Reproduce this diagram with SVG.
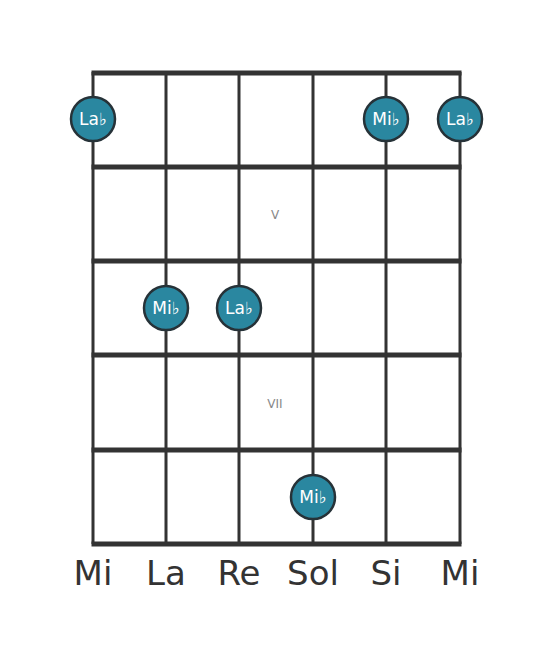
<svg xmlns="http://www.w3.org/2000/svg" width="553" height="656" viewBox="0 0 553 656">
<style>
.fret{stroke:#333;stroke-width:5}
.str{stroke:#333;stroke-width:3}
.dot circle{fill:#2a87a0;stroke:#263238;stroke-width:2.5}
.dot text{fill:#fff;font-family:"DejaVu Sans",sans-serif;font-size:17px;text-anchor:middle}
.lbl{fill:#333;font-family:"DejaVu Sans",sans-serif;font-size:34px;text-anchor:middle}
.pos{fill:#888;font-family:"DejaVu Sans",sans-serif;font-size:12px;text-anchor:middle}
</style>
<rect width="553" height="656" fill="#fff"/>
<g id="connectors">
<line class="str" x1="93" y1="72" x2="93" y2="544"/>
<line class="str" x1="166" y1="72" x2="166" y2="544"/>
<line class="str" x1="239" y1="72" x2="239" y2="544"/>
<line class="str" x1="313" y1="72" x2="313" y2="544"/>
<line class="str" x1="386" y1="72" x2="386" y2="544"/>
<line class="str" x1="460" y1="72" x2="460" y2="544"/>
<line class="fret" x1="91.5" y1="73" x2="461.5" y2="73"/>
<line class="fret" x1="91.5" y1="167" x2="461.5" y2="167"/>
<line class="fret" x1="91.5" y1="261" x2="461.5" y2="261"/>
<line class="fret" x1="91.5" y1="355" x2="461.5" y2="355"/>
<line class="fret" x1="91.5" y1="450" x2="461.5" y2="450"/>
<line class="fret" x1="91.5" y1="544" x2="461.5" y2="544"/>
</g>
<text class="pos" x="275" y="219">V</text>
<text class="pos" x="275" y="408">VII</text>
<g id="n1" class="dot"><circle cx="93" cy="119" r="22"/><text x="93" y="125">La♭</text></g>
<g id="n2" class="dot"><circle cx="386" cy="119" r="22"/><text x="386" y="125">Mi♭</text></g>
<g id="n3" class="dot"><circle cx="460" cy="119" r="22"/><text x="460" y="125">La♭</text></g>
<g id="n4" class="dot"><circle cx="166" cy="308" r="22"/><text x="166" y="314">Mi♭</text></g>
<g id="n5" class="dot"><circle cx="239" cy="308" r="22"/><text x="239" y="314">La♭</text></g>
<g id="n6" class="dot"><circle cx="313" cy="497" r="22"/><text x="313" y="503">Mi♭</text></g>
<text class="lbl" x="93" y="585">Mi</text>
<text class="lbl" x="166" y="585">La</text>
<text class="lbl" x="239" y="585">Re</text>
<text class="lbl" x="313" y="585">Sol</text>
<text class="lbl" x="386" y="585">Si</text>
<text class="lbl" x="460" y="585">Mi</text>
</svg>
